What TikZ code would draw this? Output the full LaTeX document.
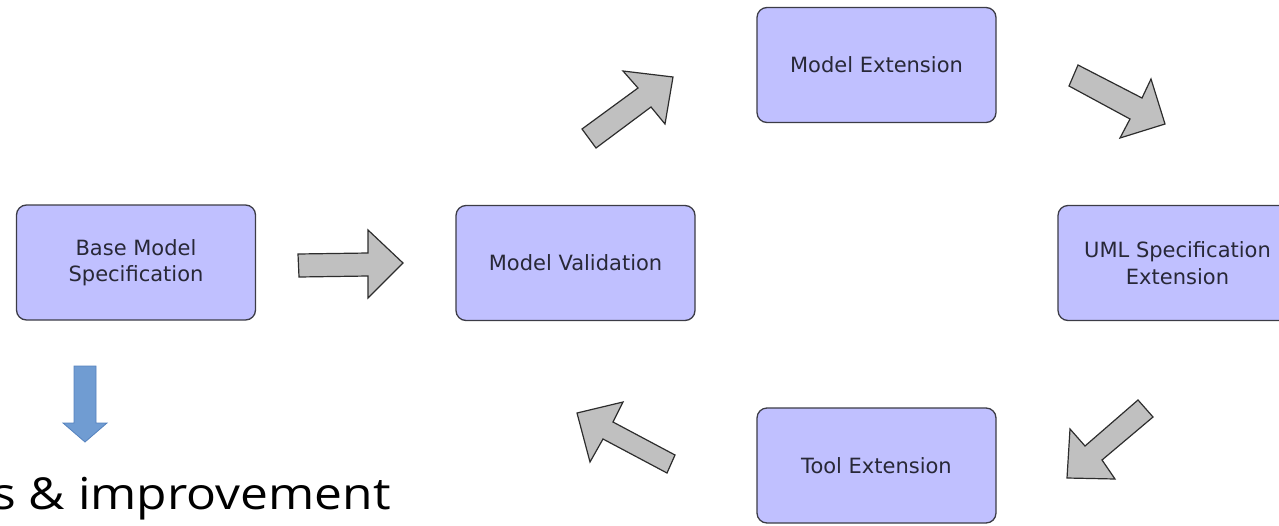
\documentclass[tikz,border=0pt]{standalone}
\usepackage{fontspec}
\setmainfont{DejaVu Sans}
\newfontfamily\bigfont[FakeStretch=1.13]{Open Sans}
\definecolor{boxfill}{RGB}{192,192,255}
\definecolor{boxline}{RGB}{60,60,70}
\definecolor{boxtext}{RGB}{40,40,55}
\definecolor{arrfill}{RGB}{192,192,192}
\definecolor{arrline}{RGB}{45,45,45}
\definecolor{bluefill}{RGB}{112,156,210}
\definecolor{blueline}{RGB}{85,130,190}
\tikzset{
  procbox/.style={draw=boxline, fill=boxfill, line width=1.3pt, rounded corners=10pt,
    minimum width=239pt, minimum height=115pt, align=center, inner sep=0pt,
    font=\fontsize{21}{26.5}\selectfont, text=boxtext},
  blockarrow/.style={draw=arrline, fill=arrfill, line width=1.2pt, line join=miter},
  bluearrow/.style={draw=blueline, fill=bluefill, line width=0.8pt}
}
\begin{document}
\begin{tikzpicture}[x=1pt,y=-1pt]
\useasboundingbox (0,0) rectangle (1279,525);
\clip (0,0) rectangle (1279,525);
\node[procbox] (base) at (136,262.5) {Base Model\\Specification};
\node[procbox] (valid) at (575.5,263) {Model Validation};
\node[procbox] (ext) at (876.5,65) {Model Extension};
\node[procbox] (uml) at (1177.5,263) {UML Specification\\Extension};
\node[procbox] (tool) at (876.5,465.5) {Tool Extension};
% gray block arrows
\draw[blockarrow] (298,254) -- (368,253) -- (368,230) -- (403,263) -- (368,298) -- (368,276) -- (299,277) -- cycle;
\draw[blockarrow] (582,129) -- (638,88) -- (623,71) -- (673,77) -- (665,124) -- (651,107) -- (596,148) -- cycle;
\draw[blockarrow] (1078,65) -- (1142,98) -- (1151,79) -- (1165,124) -- (1120,138) -- (1130,119) -- (1069,86) -- cycle;
\draw[blockarrow] (1138,400) -- (1153,417) -- (1102,460) -- (1115,479) -- (1067,478) -- (1070,429) -- (1085,446) -- cycle;
\draw[blockarrow] (577,413) -- (623,402) -- (613,422) -- (675,455) -- (667,473) -- (603,439) -- (590,462) -- cycle;
% blue arrow
\draw[bluearrow] (74,366) -- (96,366) -- (96,423) -- (107,423) -- (85,442) -- (63,423) -- (74,423) -- cycle;
\node[anchor=base east, inner sep=0pt, font=\bigfont\fontsize{44}{52}\selectfont] (imp) at (391,509) {s \& improvement};
\end{tikzpicture}
\end{document}
